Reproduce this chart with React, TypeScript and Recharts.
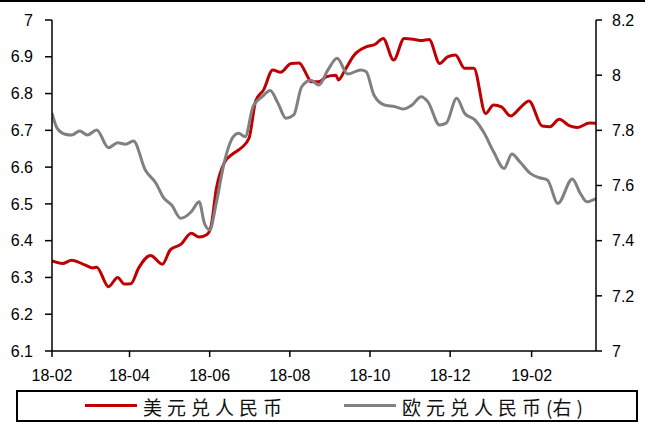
import React from 'react';
import { LineChart, Line, XAxis, YAxis } from 'recharts';

// 美元兑人民币 (left axis)
const usdDates = [
  '2018-02-01', '2018-02-09', '2018-02-16', '2018-02-26', '2018-03-04', '2018-03-07',
  '2018-03-16', '2018-03-23', '2018-03-28', '2018-04-02', '2018-04-08', '2018-04-17',
  '2018-04-26', '2018-05-02', '2018-05-10', '2018-05-18', '2018-05-24', '2018-05-30',
  '2018-06-02', '2018-06-06', '2018-06-12', '2018-06-19', '2018-06-25', '2018-07-01',
  '2018-07-06', '2018-07-12', '2018-07-19', '2018-07-25', '2018-08-02', '2018-08-08',
  '2018-08-14', '2018-08-17', '2018-08-23', '2018-08-29', '2018-09-05', '2018-09-07',
  '2018-09-12', '2018-09-19', '2018-09-28', '2018-10-05', '2018-10-11', '2018-10-19',
  '2018-10-27', '2018-11-04', '2018-11-09', '2018-11-15', '2018-11-23', '2018-11-29',
  '2018-12-05', '2018-12-12', '2018-12-19', '2018-12-28', '2019-01-03', '2019-01-09',
  '2019-01-16', '2019-01-24', '2019-01-30', '2019-02-09', '2019-02-15', '2019-02-22',
  '2019-03-02', '2019-03-08', '2019-03-17', '2019-03-22',
];
const usdCny = [
  6.345, 6.338, 6.347, 6.334, 6.326, 6.328,
  6.275, 6.3, 6.282, 6.283, 6.326, 6.36,
  6.336, 6.375, 6.39, 6.42, 6.41, 6.417,
  6.438, 6.54, 6.611, 6.637, 6.652, 6.679,
  6.78, 6.81, 6.864, 6.858, 6.882, 6.883,
  6.85, 6.832, 6.832, 6.846, 6.85, 6.837,
  6.864, 6.905, 6.927, 6.934, 6.95, 6.891,
  6.95, 6.947, 6.944, 6.947, 6.882, 6.9,
  6.905, 6.869, 6.869, 6.746, 6.769, 6.764,
  6.739, 6.764, 6.78, 6.712, 6.71, 6.73,
  6.712, 6.708, 6.72, 6.719,
];

// 欧元兑人民币 (right axis)
const eurDates = [
  '2018-02-01', '2018-02-05', '2018-02-11', '2018-02-16', '2018-02-22', '2018-02-28',
  '2018-03-07', '2018-03-16', '2018-03-23', '2018-03-29', '2018-04-04', '2018-04-13',
  '2018-04-21', '2018-04-27', '2018-05-03', '2018-05-10', '2018-05-18', '2018-05-24',
  '2018-05-28', '2018-06-01', '2018-06-06', '2018-06-12', '2018-06-19', '2018-06-23',
  '2018-06-28', '2018-07-04', '2018-07-11', '2018-07-17', '2018-07-23', '2018-07-29',
  '2018-08-04', '2018-08-10', '2018-08-17', '2018-08-23', '2018-08-30', '2018-09-06',
  '2018-09-14', '2018-09-24', '2018-09-28', '2018-10-04', '2018-10-12', '2018-10-20',
  '2018-10-26', '2018-11-02', '2018-11-09', '2018-11-14', '2018-11-23', '2018-11-28',
  '2018-12-06', '2018-12-12', '2018-12-20', '2018-12-27', '2019-01-03', '2019-01-11',
  '2019-01-17', '2019-01-23', '2019-01-31', '2019-02-07', '2019-02-13', '2019-02-21',
  '2019-03-04', '2019-03-10', '2019-03-15', '2019-03-22',
];
const eurCny = [
  7.862, 7.807, 7.786, 7.783, 7.798, 7.783,
  7.801, 7.737, 7.755, 7.75, 7.761, 7.656,
  7.609, 7.555, 7.529, 7.481, 7.505, 7.541,
  7.463, 7.439, 7.536, 7.682, 7.777, 7.789,
  7.777, 7.886, 7.922, 7.944, 7.898, 7.844,
  7.856, 7.958, 7.982, 7.964, 8.019, 8.061,
  8.004, 8.019, 8.013, 7.928, 7.892, 7.886,
  7.877, 7.892, 7.922, 7.904, 7.819, 7.826,
  7.916, 7.862, 7.837, 7.789, 7.723, 7.662,
  7.714, 7.686, 7.644, 7.628, 7.62, 7.535,
  7.624, 7.572, 7.541, 7.553,
];

const xTickDates = [
  '2018-02-01', '2018-04-01', '2018-06-01', '2018-08-01',
  '2018-10-01', '2018-12-01', '2019-02-01',
];
const leftTicks = [6.1, 6.2, 6.3, 6.4, 6.5, 6.6, 6.7, 6.8, 6.9, 7];
const rightTicks = [7, 7.2, 7.4, 7.6, 7.8, 8, 8.2];

const toTime = (d: string) => new Date(d + 'T00:00:00Z').getTime();
const fmtDate = (t: number) => {
  const d = new Date(t);
  const yy = String(d.getUTCFullYear()).slice(2);
  const mm = String(d.getUTCMonth() + 1).padStart(2, '0');
  return `${yy}-${mm}`;
};

const usdData = usdDates.map((d, i) => ({ t: toTime(d), v: usdCny[i] }));
const eurData = eurDates.map((d, i) => ({ t: toTime(d), v: eurCny[i] }));

const tickFont = { fontFamily: 'Liberation Sans, Arial, sans-serif', fontSize: 16, fill: '#000' };
const axisLine = { stroke: '#000', strokeWidth: 1.5 };
const legendText: React.CSSProperties = {
  position: 'absolute',
  top: 2,
  fontFamily: '"Noto Sans CJK SC", sans-serif',
  fontSize: 19,
  letterSpacing: 5,
  lineHeight: '26px',
  color: '#111',
  whiteSpace: 'nowrap',
};

const App = () => {
  return (
    <div style={{ position: 'absolute', left: 0, top: 0, width: 645, height: 423, background: '#fff' }}>
      <div style={{ position: 'absolute', left: 0, top: 0, width: 645, height: 2, background: '#000' }} />
      <LineChart
        width={645}
        height={390}
        margin={{ top: 20, right: 0, bottom: 0, left: 0 }}
      >
        <XAxis
          dataKey="t"
          type="number"
          domain={[toTime('2018-02-01'), toTime('2019-03-22')]}
          ticks={xTickDates.map(toTime)}
          tickFormatter={fmtDate}
          height={39}
          tick={tickFont}
          tickSize={6}
          tickMargin={13}
          axisLine={axisLine}
          tickLine={axisLine}
          allowDataOverflow
        />
        <YAxis
          yAxisId="left"
          orientation="left"
          domain={[6.1, 7]}
          ticks={leftTicks}
          width={52}
          tick={tickFont}
          tickSize={7}
          tickMargin={12}
          axisLine={axisLine}
          tickLine={axisLine}
        />
        <YAxis
          yAxisId="right"
          orientation="right"
          domain={[7, 8.2]}
          ticks={rightTicks}
          width={49}
          tick={tickFont}
          tickSize={6}
          tickMargin={10}
          axisLine={axisLine}
          tickLine={axisLine}
        />
        <Line
          yAxisId="left"
          data={usdData}
          dataKey="v"
          type="monotone"
          stroke="#C00000"
          strokeWidth={3}
          dot={false}
          isAnimationActive={false}
        />
        <Line
          yAxisId="right"
          data={eurData}
          dataKey="v"
          type="monotone"
          stroke="#808080"
          strokeWidth={3}
          dot={false}
          isAnimationActive={false}
        />
      </LineChart>
      <div
        style={{
          position: 'absolute',
          left: 16,
          top: 390,
          width: 622,
          height: 32,
          border: '2px solid #000',
          boxSizing: 'border-box',
        }}
      >
        <div style={{ position: 'absolute', left: 67, top: 12, width: 52, height: 3, background: '#C00000' }} />
        <div style={{ ...legendText, left: 125 }}>美元兑人民币</div>
        <div style={{ position: 'absolute', left: 326, top: 12, width: 52, height: 3, background: '#808080' }} />
        <div style={{ ...legendText, left: 384 }}>
          欧元兑人民币<span style={{ letterSpacing: 0 }}>(</span>右<span style={{ letterSpacing: 0 }}>)</span>
        </div>
      </div>
    </div>
  );
};

export default App;
